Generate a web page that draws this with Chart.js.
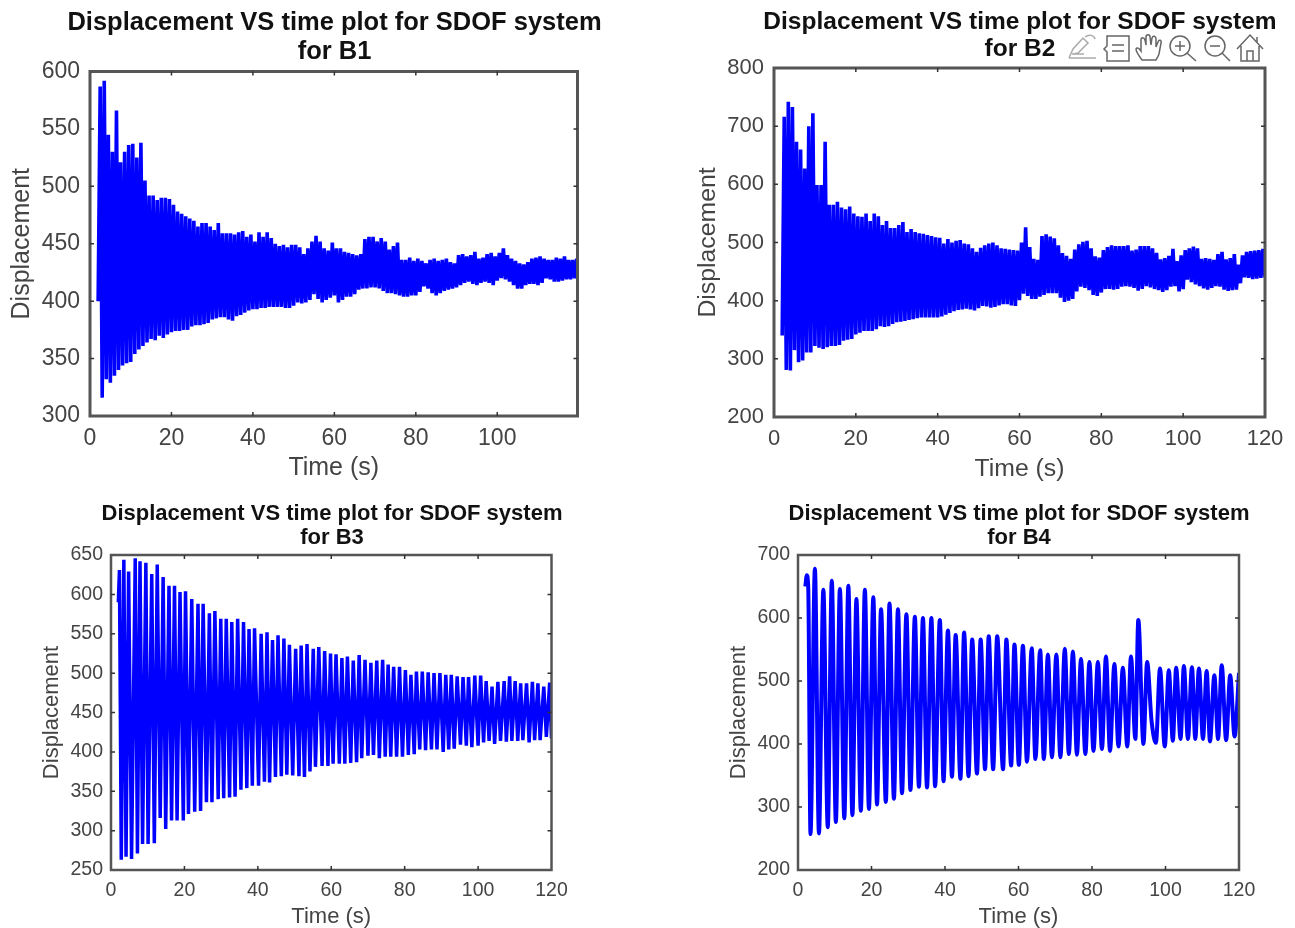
<!DOCTYPE html>
<html>
<head>
<meta charset="utf-8">
<title>Displacement VS time</title>
<script src="https://cdn.jsdelivr.net/npm/chart.js@4"></script>
<style>
html, body { margin: 0; background: #fff; overflow: hidden; width: 1295px; height: 928px; }
canvas, svg { position: absolute; filter: blur(0.45px); }
</style>
</head>
<body>
<canvas id="b1" width="669" height="483" style="left:0;top:0"></canvas>
<canvas id="b2" width="660" height="484" style="left:690px;top:0"></canvas>
<canvas id="b3" width="624" height="440" style="left:20px;top:490px"></canvas>
<canvas id="b4" width="638" height="440" style="left:700px;top:490px"></canvas>
<svg viewBox="1066 32 200 32" width="200" height="32" style="left:1066px;top:32px" fill="none" stroke="#666" stroke-width="1.5">
  <path stroke="#aaa" d="M1069 58h27M1069 58l4-9 10-11 5 5-10 10-5 1M1085 37c4-3 9-2 10 2M1072 54h12"/>
  <path d="M1107 36h22v25h-22v-9l-3-3 3-3zM1112 45h12M1112 51h12"/>
  <path d="M1142 60c-3-4-6-8-6-11 1-2 3-1 5 2l0-11c0-3 3-3 4 0l1 5 0-8c0-3 4-3 4 0l1 8 1-7c1-3 4-2 4 1l0 8 2-5c1-3 4-2 3 1l-2 11c-1 3-2 4-3 6z"/>
  <circle cx="1180" cy="46" r="10"/><path d="M1187 53l9 8M1175 46h10M1180 41v10"/>
  <circle cx="1215" cy="46" r="10"/><path d="M1222 53l8 8M1210 46h10"/>
  <path d="M1237 49l13-14 13 14M1241 46v15h18v-15M1247 61v-10h6v10M1257 37v5"/>
</svg>
<script>
const xTicksB1 = [0, 20, 40, 60, 80, 100];
const xTicks = [0, 20, 40, 60, 80, 100, 120];

const denseUpperT = [
  2.5,3.5,4.5,5.5,6.5,7.5,8.5,9.5,10.5,11.5,12.5,13.5,14.5,15.5,16.5,17.5,18.5,19.5,20.5,21.5,
  22.5,23.5,24.5,25.5,26.5,27.5,28.5,29.5,30.5,31.5,32.5,33.5,34.5,35.5,36.5,37.5,38.5,39.5,40.5,41.5,
  42.5,43.5,44.5,45.5,46.5,47.5,48.5,49.5,50.5,51.5,52.5,53.5,54.5,55.5,56.5,57.5,58.5,59.5,60.5,61.5,
  62.5,63.5,64.5,65.5,66.5,67.5,68.5,69.5,70.5,71.5,72.5,73.5,74.5,75.5,76.5,77.5,78.5,79.5,80.5,81.5,
  82.5,83.5,84.5,85.5,86.5,87.5,88.5,89.5,90.5,91.5,92.5,93.5,94.5,95.5,96.5,97.5,98.5,99.5,100.5,101.5,
  102.5,103.5,104.5,105.5,106.5,107.5,108.5,109.5,110.5,111.5,112.5,113.5,114.5,115.5,116.5,117.5,118.5,119.5];
const denseLowerT = [
  2,3,4,5,6,7,8,9,10,11,12,13,14,15,16,17,18,19,20,21,22,23,24,25,26,27,28,29,30,31,32,
  33,34,35,36,37,38,39,40,41,42,43,44,45,46,47,48,49,50,51,52,53,54,55,56,57,58,59,60,61,62,
  63,64,65,66,67,68,69,70,71,72,73,74,75,76,77,78,79,80,81,82,83,84,85,86,87,88,89,90,91,92,
  93,94,95,96,97,98,99,100,101,102,103,104,105,106,107,108,109,110,111,112,113,114,115,116,117,118,119,120];

const b1Upper = [
  587,592,545,530,566,521,530,536,537,525,
  538,505,492,492,488,490,490,489,484,478,
  476,474,472,470,465,468,468,465,462,468,
  459,459,459,458,460,461,456,458,452,460,
  456,460,455,450,448,449,447,449,449,447,
  441,446,452,457,452,446,444,451,446,446,
  443,442,441,440,441,454,456,456,452,455,
  452,445,448,451,436,436,438,435,437,435,
  433,436,437,435,436,437,434,433,440,441,
  439,440,443,437,438,441,442,439,442,446,
  440,437,435,433,432,434,437,438,439,437,
  436,436,438,437,439,436,436,437];
const b1Lower = [
  400,316,332,329,335,340,344,346,347,354,358,
  361,364,367,366,370,368,371,373,374,374,
  375,375,378,379,379,380,381,384,385,386,
  386,384,383,387,388,390,392,393,393,394,
  394,395,395,395,395,394,394,396,399,398,
  399,401,406,402,399,401,403,405,399,401,
  404,404,406,410,411,411,412,412,411,409,
  407,407,406,405,404,404,405,405,408,413,
  411,407,405,407,409,410,411,412,414,416,
  417,415,414,416,417,416,414,418,420,419,
  417,414,411,411,414,415,415,414,416,420,
  419,417,417,418,419,419,420,420];

const b2Upper = [
  716,742,733,673,660,627,700,722,599,599,
  673,565,565,570,560,557,562,550,545,544,
  550,537,550,545,530,537,525,525,530,535,
  518,523,518,516,515,513,511,509,508,498,
  506,500,503,504,498,497,490,484,491,495,
  498,500,495,490,489,488,487,486,500,526,
  492,472,470,511,514,510,507,495,482,477,
  472,488,497,501,503,490,476,474,487,492,
  495,494,494,494,495,486,488,494,494,494,
  490,482,471,473,477,489,468,478,487,490,
  493,490,472,473,472,470,480,484,471,473,
  480,462,478,484,485,486,487,489];
const b2Lower = [
  340,281,280,315,294,297,311,311,322,319,317,
  320,322,322,324,331,333,334,342,345,348,
  348,348,351,356,355,356,360,363,364,365,
  367,368,370,371,371,371,371,371,373,376,
  379,382,384,385,386,385,383,387,391,390,
  388,389,392,394,394,392,391,401,412,408,
  403,403,407,410,413,413,413,405,398,400,
  403,416,424,422,418,410,408,414,420,420,
  419,420,424,425,424,422,417,420,425,423,
  420,418,415,418,424,425,416,420,436,432,
  428,425,421,419,422,425,424,419,417,418,
  419,430,440,439,437,438,439,440];

const b3PeakT = [
  2.3,3.5,4.8,6.6,7.9,9.5,11.1,12.6,14.2,15.8,17.3,18.8,20.3,22,23.7,25.1,26.8,28.3,29.9,31.4,
  32.9,34.5,36.1,37.6,39.1,40.9,42.5,44,45.5,47.1,48.6,50.3,51.8,53.4,55.1,56.6,58.2,59.8,61.3,62.9,
  64.4,66,67.6,69.2,70.8,72.4,74,75.5,77,78.6,80.2,81.7,83.2,84.8,86.4,88,89.6,91.2,92.7,94.3,
  95.9,97.4,99.1,100.7,102.2,103.8,105.4,107.1,108.6,110.1,111.6,113.2,114.8,116.3,117.9,119.5];
const b3Peak = [
  631,644,629,646,642,640,626,638,622,611,611,603,604,594,588,588,576,579,569,569,
  565,569,565,556,557,550,552,542,548,544,536,531,535,537,531,533,528,525,524,519,
  521,516,523,517,513,516,517,511,508,508,504,498,502,502,501,500,500,498,498,496,
  495,495,497,497,490,483,489,490,496,490,487,487,489,487,483,488];
const b3TroughT = [
  2,2.8,4.1,5.6,7.2,8.6,10.1,11.8,13.4,14.9,16.5,18,19.7,21.1,22.8,24.4,26,27.5,29.2,30.7,32.3,
  33.8,35.4,37,38.5,40.2,41.8,43.2,44.8,46.4,47.9,49.5,51.2,52.7,54.2,55.7,57.5,59.1,60.5,62.2,63.7,
  65.3,66.9,68.3,70,71.5,73.1,74.7,76.2,77.8,79.4,81,82.6,84.1,85.7,87.3,88.8,90.5,92,93.5,95.2,
  96.8,98.3,100,101.5,103,104.5,106.1,107.7,109.2,110.8,112.2,113.9,115.4,116.9,118.6,120];
const b3Trough = [
  590,263,267,264,271,283,283,284,316,302,313,313,313,321,324,325,336,336,340,341,342,
  343,352,354,357,357,362,361,368,369,371,370,369,368,375,381,382,382,385,385,385,
  386,387,392,395,396,392,394,394,394,394,396,397,403,402,403,403,400,403,404,409,
  408,406,408,412,414,410,414,413,414,414,415,412,415,415,419,417];

const b4PeakT = [
  2.4,4.6,6.9,9.2,11.4,13.7,15.9,18.2,20.5,22.6,24.9,27.2,29.5,31.8,34,36.3,38.6,40.8,42.9,45.2,
  47.4,49.7,51.9,54.2,56.7,58.9,61.2,63.6,65.9,68,70.3,72.6,74.8,77,79.3,81.6,83.8,86.1,88.4,90.6,
  92.6,95,98.5,100.9,102.9,105,107.2,109.1,111.2,113.3,115.3,117.6,120];
const b4Peak = [
  668,678,645,659,646,651,630,645,633,614,623,614,606,602,600,600,597,580,573,577,
  566,566,571,571,566,558,556,552,549,542,542,551,547,535,530,530,539,527,521,539,
  597,530,520,517,521,524,522,520,516,509,525,509,513];
const b4TroughT = [
  2,2.8,3.4,5.7,8.1,10.3,12.6,14.8,17.1,19.3,21.5,23.9,26.1,28.3,30.6,32.9,35.1,37.3,39.6,41.9,
  44.2,46.4,48.7,50.9,53.1,55.8,58,60.1,62.3,64.6,66.9,69.1,71.4,73.7,75.9,78.2,80.4,82.7,84.9,87.2,
  89.6,91.8,94,96.2,97.4,99.8,102,104.1,106.1,108.1,110.2,112.1,114.3,116.5,118.8];
const b4Trough = [
  650,645,257,258,268,276,282,287,294,297,304,308,313,322,327,332,331,333,341,348,
  345,349,353,360,360,360,366,367,372,376,376,379,379,384,383,384,389,392,389,396,
  396,408,400,437,402,396,405,408,408,408,408,404,408,406,412];

const titleLine = "Displacement VS time plot for SDOF system";

// box and inward ticks on all four sides, like matlab
const boxPlugin = {
  id: "box",
  afterDatasetsDraw(chart, args, opts) {
    const a = chart.chartArea, c = chart.ctx;
    c.save();
    c.strokeStyle = "#555";
    c.lineWidth = opts.width;
    c.strokeRect(a.left, a.top, a.right - a.left, a.bottom - a.top);
    c.strokeStyle = "#333";
    c.lineWidth = 1.5;
    c.beginPath();
    chart.scales.x.ticks.forEach(t => {
      const p = chart.scales.x.getPixelForValue(t.value);
      if (p <= a.left + 1 || p >= a.right - 1) return;
      c.moveTo(p, a.bottom); c.lineTo(p, a.bottom - 4);
      c.moveTo(p, a.top); c.lineTo(p, a.top + 4);
    });
    chart.scales.y.ticks.forEach(t => {
      const p = chart.scales.y.getPixelForValue(t.value);
      if (p <= a.top + 1 || p >= a.bottom - 1) return;
      c.moveTo(a.left, p); c.lineTo(a.left + 4, p);
      c.moveTo(a.right, p); c.lineTo(a.right - 4, p);
    });
    c.stroke();
    c.restore();
  }
};

function zigzag(upperT, upper, lowerT, lower) {
  const pts = upperT.map((t, i) => ({ x: t, y: upper[i] }))
    .concat(lowerT.map((t, i) => ({ x: t, y: lower[i] })));
  return pts.sort((a, b) => a.x - b.x);
}

function drawPlot(id, name, points, s) {
  new Chart(document.getElementById(id), {
    type: "line",
    data: { datasets: [{
      data: points,
      borderColor: "#0000ff",
      borderWidth: s.line,
      borderJoinStyle: "bevel",
      cubicInterpolationMode: s.curve,
      pointRadius: 0
    }] },
    plugins: [boxPlugin],
    options: {
      responsive: false,
      animation: false,
      plugins: {
        legend: { display: false },
        tooltip: { enabled: false },
        box: { width: s.frame },
        title: {
          display: true,
          text: [titleLine, "for " + name],
          color: "#111",
          font: { family: "Liberation Sans", size: s.titleSize, weight: "bold", lineHeight: s.titleLead + "px" },
          padding: { top: s.titleTop, bottom: s.titleBottom }
        }
      },
      scales: {
        x: {
          type: "linear",
          min: 0,
          max: s.xMax,
          grid: { display: false, drawTicks: false },
          border: { display: false },
          afterBuildTicks(scale) {
            scale.ticks = s.xTicks.map(v => ({ value: v }));
          },
          ticks: { autoSkip: false, maxRotation: 0, color: "#444",
            padding: s.xPad, font: { family: "Liberation Sans", size: s.tickSize } },
          title: { display: true, text: "Time (s)", color: "#444",
            font: { family: "Liberation Sans", size: s.labelSize }, padding: 0 },
          afterFit(scale) {
            scale.height = s.xHeight;
            scale.paddingLeft = scale.paddingRight = 0;
          }
        },
        y: {
          min: s.yMin,
          max: s.yMax,
          grid: { display: false, drawTicks: false },
          border: { display: false },
          ticks: { stepSize: s.yStep, color: "#444", padding: s.yPad,
            font: { family: "Liberation Sans", size: s.tickSize } },
          title: { display: true, text: "Displacement", color: "#444",
            font: { family: "Liberation Sans", size: s.labelSize }, padding: { top: s.labelPad, bottom: 0 } },
          afterFit(scale) {
            scale.width = s.yWidth;
            scale.paddingTop = scale.paddingBottom = 0;
          }
        },
        // empty right axis so the title stays centred over the whole canvas
        side: {
          axis: "y",
          position: "right",
          grid: { display: false, drawTicks: false },
          border: { display: false },
          ticks: { display: false },
          afterFit(scale) {
            scale.width = s.right;
            scale.paddingTop = scale.paddingBottom = 0;
          }
        }
      }
    }
  });
}

drawPlot("b1", "B1", zigzag(denseUpperT, b1Upper, denseLowerT, b1Lower), {
  xMax: 119.7, xTicks: xTicksB1, yMin: 300, yMax: 600, yStep: 50, curve: "default", line: 3.6, frame: 3, right: 91.5, yWidth: 90, xHeight: 67,
  titleSize: 25.5, titleLead: 29, titleTop: 8.5, titleBottom: 5, tickSize: 23, labelSize: 25, xPad: 9, yPad: 10, labelPad: 7
});
drawPlot("b2", "B2", zigzag(denseUpperT, b2Upper, denseLowerT, b2Lower), {
  xMax: 120, xTicks: xTicks, yMin: 200, yMax: 800, yStep: 100, curve: "default", line: 3.6, frame: 3, right: 85, yWidth: 84, xHeight: 67,
  titleSize: 24.5, titleLead: 27, titleTop: 8.5, titleBottom: 5.5, tickSize: 22, labelSize: 24.8, xPad: 9, yPad: 10, labelPad: 3
});
drawPlot("b3", "B3", zigzag(b3PeakT, b3Peak, b3TroughT, b3Trough), {
  xMax: 120, xTicks: xTicks, yMin: 250, yMax: 650, yStep: 50, curve: "default", line: 3.5, frame: 2.5, right: 92.5, yWidth: 91, xHeight: 60,
  titleSize: 22, titleLead: 24, titleTop: 12, titleBottom: 5, tickSize: 19.5, labelSize: 22, xPad: 9, yPad: 8, labelPad: 19
});
drawPlot("b4", "B4", zigzag(b4PeakT, b4Peak, b4TroughT, b4Trough), {
  xMax: 120, xTicks: xTicks, yMin: 200, yMax: 700, yStep: 100, curve: "monotone", line: 4, frame: 2.5, right: 99, yWidth: 98, xHeight: 60,
  titleSize: 22, titleLead: 24, titleTop: 12, titleBottom: 5, tickSize: 19.5, labelSize: 22, xPad: 9, yPad: 8, labelPad: 26
});
</script>
</body>
</html>
